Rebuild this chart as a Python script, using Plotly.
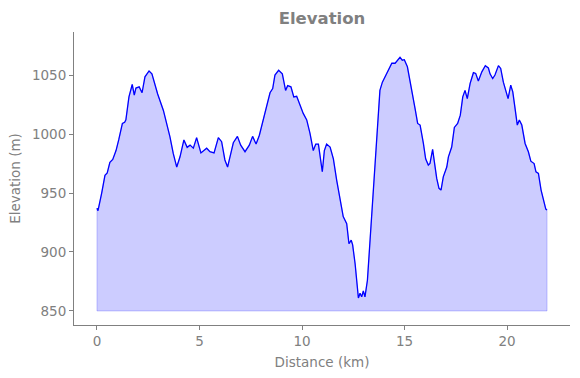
import plotly.graph_objects as go

distance_km = [
    0.00, 0.05, 0.23, 0.39, 0.50, 0.63, 0.77, 0.93, 1.06, 1.24, 1.35, 1.41, 1.56, 1.72, 1.82, 1.90,
    2.06, 2.20, 2.34, 2.54, 2.68, 2.83, 2.96, 3.24, 3.40, 3.56, 3.72, 3.89, 4.05, 4.24, 4.40, 4.54,
    4.70, 4.86, 5.07, 5.35, 5.51, 5.71, 5.92, 6.08, 6.24, 6.37, 6.52, 6.65, 6.85, 7.01, 7.22, 7.43,
    7.59, 7.76, 7.92, 8.08, 8.24, 8.44, 8.57, 8.68, 8.86, 9.04, 9.20, 9.30, 9.46, 9.60, 9.74, 9.90,
    10.06, 10.23, 10.39, 10.55, 10.67, 10.80, 10.99, 11.09, 11.20, 11.37, 11.53, 11.69, 11.85, 12.01,
    12.18, 12.29, 12.40, 12.47, 12.59, 12.67, 12.75, 12.83, 12.91, 12.99, 13.07, 13.19, 13.32, 13.45,
    13.56, 13.64, 13.72, 13.80, 13.92, 14.05, 14.21, 14.38, 14.54, 14.67, 14.78, 14.89, 14.99, 15.14,
    15.27, 15.40, 15.51, 15.64, 15.76, 15.92, 16.03, 16.16, 16.24, 16.37, 16.45, 16.57, 16.68, 16.78,
    16.89, 17.06, 17.14, 17.30, 17.43, 17.59, 17.72, 17.84, 17.95, 18.06, 18.20, 18.36, 18.47, 18.60,
    18.77, 18.94, 19.09, 19.17, 19.30, 19.41, 19.58, 19.69, 19.82, 19.95, 20.05, 20.18, 20.28, 20.39,
    20.50, 20.60, 20.72, 20.88, 21.04, 21.16, 21.32, 21.41, 21.53, 21.66, 21.77, 21.89, 21.95,
]

elevation_m = [
    937, 935, 950, 965, 967, 976, 978.5, 986, 995, 1009, 1010, 1012, 1031.5, 1042, 1033, 1039,
    1040, 1035, 1048.5, 1053.5, 1051, 1041, 1034, 1020, 1009, 997.6, 983.6, 972, 980.7, 995, 988.7, 990.6,
    988, 997, 984, 988, 985, 984, 997, 993.5, 978, 972, 983, 992.6, 998, 990.6, 985, 990.6,
    998, 991.5, 999, 1010, 1021.7, 1035, 1038.6, 1050, 1054, 1051, 1037, 1041, 1040, 1031.5, 1032, 1024.5,
    1017.5, 1012, 1000.5, 986, 991.5, 991.5, 968, 986, 991.5, 989, 979, 961, 944, 930,
    924, 907, 910, 906, 890, 873, 861, 865, 862, 867, 862, 876, 910, 944,
    980.6, 1003, 1014.6, 1037, 1044, 1048.5, 1054, 1060, 1060, 1063, 1065, 1062.6, 1063, 1057,
    1045.6, 1031.5, 1022, 1009, 1007.6, 992, 979, 973.7, 975, 987, 976.5, 962.4, 954, 952.5,
    963.7, 972, 980.7, 989, 1005.6, 1009, 1016, 1031.5, 1037, 1030, 1043, 1052, 1051.4, 1045,
    1052.7, 1058, 1056, 1051, 1047, 1050, 1058, 1055.6, 1044, 1037, 1030, 1041.4, 1035.7, 1021.7,
    1007.6, 1011.8, 1007.6, 992, 985, 977, 975, 968, 966.6, 952.5, 945.5, 936.4, 935.5,
]

fill_base = 850
x_ticks = [0, 5, 10, 15, 20]
y_ticks = [850, 900, 950, 1000, 1050]

GRAY = "#808080"
FONT = "DejaVu Sans"

fig = go.Figure()

# filled area between profile and base
fig.add_trace(go.Scatter(
    x=distance_km + [distance_km[-1], distance_km[0], distance_km[0]],
    y=elevation_m + [fill_base, fill_base, elevation_m[0]],
    mode="lines",
    fill="toself",
    fillcolor="rgba(0,0,255,0.2)",
    line=dict(color="rgba(0,0,255,0.2)", width=1),
    hoverinfo="skip",
    showlegend=False,
))

fig.add_trace(go.Scatter(
    x=distance_km,
    y=elevation_m,
    mode="lines",
    line=dict(color="#0000ff", width=1.3),
    showlegend=False,
))

axis_common = dict(
    showgrid=False,
    zeroline=False,
    showline=True,
    linecolor=GRAY,
    linewidth=1,
    ticks="outside",
    ticklen=4,
    tickwidth=1,
    tickcolor=GRAY,
    tickfont=dict(family=FONT, size=13.5, color=GRAY),
    mirror=False,
    automargin=False,
)

fig.update_layout(
    width=580,
    height=378,
    margin=dict(l=74, r=10, t=32, b=53, autoexpand=False),
    paper_bgcolor="white",
    plot_bgcolor="white",
    title=dict(
        text="Elevation",
        x=0.5, xanchor="center", xref="paper",
        y=1 - 18 / 378, yanchor="middle", yref="container",
        pad=dict(t=0, b=0, l=0, r=0),
        font=dict(family=FONT, size=16.5, color=GRAY, weight=700),
    ),
    xaxis=dict(
        **axis_common,
        range=[-1.12, 23.07],
        tickvals=x_ticks,
        ticktext=[str(v) for v in x_ticks],
        title=dict(text="Distance (km)", font=dict(family=FONT, size=13.5, color=GRAY), standoff=9),
    ),
    yaxis=dict(
        **axis_common,
        range=[838.1, 1086.5],
        tickvals=y_ticks,
        ticktext=[str(v) for v in y_ticks],
        title=dict(text="Elevation (m)", font=dict(family=FONT, size=13.5, color=GRAY), standoff=8),
    ),
)

fig.write_html(
    "out.html",
    config={"displayModeBar": False},
    post_script="document.body.style.margin='0';document.body.style.padding='0';",
)
